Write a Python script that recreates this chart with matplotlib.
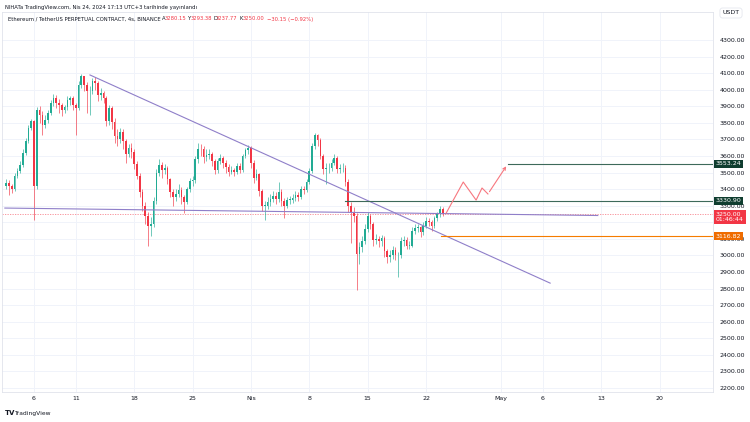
import numpy as np
import pandas as pd
import matplotlib
matplotlib.use("Agg")
import matplotlib.pyplot as plt
import matplotlib.dates as mdates
import matplotlib.transforms as mtransforms

# 8h candles, ETH/USDT
start = "2024-03-02 16:00"
closes = [3437, 3420, 3400, 3480, 3510, 3546, 3620, 3690, 3770, 3810,
          3420, 3880, 3850, 3790, 3820, 3860, 3920, 3950, 3920, 3905,
          3880, 3895, 3940, 3950, 3905, 3890, 4030, 4080, 4030, 3990,
          3990, 4055, 4040, 3970, 3980, 3950, 3810, 3890, 3805, 3720,
          3700, 3745, 3690, 3610, 3650, 3625, 3550, 3480, 3385, 3300,
          3240, 3180, 3190, 3330, 3500, 3545, 3515, 3525, 3460, 3385,
          3350, 3370, 3395, 3350, 3325, 3400, 3450, 3455, 3580, 3645,
          3640, 3595, 3605, 3615, 3570, 3515, 3570, 3590, 3560, 3535,
          3505, 3515, 3505, 3540, 3515, 3600, 3635, 3650, 3560, 3470,
          3490, 3390, 3300, 3300, 3320, 3340, 3360, 3340, 3380, 3330,
          3300, 3335, 3335, 3345, 3365, 3355, 3400, 3395, 3445, 3510,
          3660, 3725, 3695, 3600, 3520, 3525, 3530, 3560, 3590, 3520,
          3525, 3530, 3445, 3300, 3260, 3240, 3010, 3050, 3090, 3160,
          3240, 3190, 3095, 3100, 3085, 3105, 3025, 2990, 3000, 3035,
          3000, 3000, 3090, 3095, 3060, 3060, 3150, 3165, 3170, 3140,
          3180, 3210, 3200, 3180, 3225, 3250, 3280, 3250]
highs = [3460, 3455, 3430, 3495, 3530, 3570, 3640, 3710, 3790, 3825,
         3820, 3895, 3900, 3870, 3850, 3880, 3940, 3975, 3970, 3945,
         3920, 3910, 3960, 3965, 3960, 3920, 4050, 4095, 4085, 4045,
         4020, 4070, 4075, 4050, 4010, 3995, 3960, 3905, 3900, 3830,
         3760, 3770, 3760, 3700, 3670, 3680, 3640, 3570, 3500, 3400,
         3320, 3260, 3230, 3350, 3520, 3580, 3565, 3550, 3540, 3470,
         3400, 3400, 3430, 3410, 3365, 3415, 3470, 3480, 3600, 3680,
         3670, 3660, 3640, 3640, 3625, 3580, 3590, 3610, 3600, 3575,
         3550, 3540, 3530, 3560, 3555, 3615, 3650, 3665, 3660, 3575,
         3520, 3500, 3400, 3330, 3350, 3370, 3390, 3380, 3443, 3400,
         3345, 3350, 3360, 3370, 3390, 3380, 3420, 3420, 3460, 3530,
         3680, 3739, 3735, 3710, 3615, 3560, 3560, 3580, 3610, 3600,
         3550, 3555, 3545, 3460, 3320, 3290, 3255, 3080, 3120, 3190,
         3260, 3250, 3200, 3130, 3120, 3125, 3115, 3040, 3030, 3060,
         3050, 3020, 3110, 3120, 3110, 3085, 3170, 3190, 3190, 3180,
         3200, 3230, 3225, 3215, 3240, 3265, 3300, 3293]
lows = [3400, 3365, 3375, 3390, 3465, 3495, 3535, 3605, 3680, 3755,
        3214, 3400, 3800, 3727, 3770, 3800, 3845, 3900, 3890, 3860,
        3840, 3860, 3880, 3910, 3880, 3727, 3880, 4010, 3990, 3860,
        3848, 3975, 4000, 3930, 3940, 3920, 3780, 3790, 3760, 3680,
        3660, 3680, 3640, 3560, 3595, 3590, 3520, 3460, 3350, 3270,
        3190, 3060, 3120, 3170, 3310, 3480, 3470, 3490, 3430, 3350,
        3300, 3330, 3350, 3310, 3255, 3310, 3385, 3420, 3440, 3560,
        3600, 3560, 3570, 3580, 3540, 3490, 3500, 3550, 3530, 3500,
        3480, 3490, 3480, 3490, 3495, 3505, 3585, 3610, 3530, 3440,
        3455, 3360, 3270, 3214, 3280, 3300, 3320, 3310, 3320, 3300,
        3226, 3285, 3310, 3315, 3330, 3330, 3340, 3370, 3380, 3430,
        3500, 3640, 3660, 3580, 3490, 3430, 3500, 3510, 3545, 3495,
        3500, 3505, 3420, 3260, 3075, 3200, 2790, 2950, 3020, 3070,
        3140, 3160, 3060, 3070, 3050, 3060, 2990, 2955, 2960, 2980,
        2970, 2870, 2985, 3060, 3040, 3040, 3050, 3130, 3140, 3110,
        3125, 3165, 3175, 3150, 3165, 3210, 3235, 3238]
first_open = 3420

price_ticks = list(range(2200, 4400, 100))
date_ticks = ["2024-03-06", "2024-03-11", "2024-03-18", "2024-03-25", "2024-04-01",
              "2024-04-08", "2024-04-15", "2024-04-22", "2024-05-01", "2024-05-06",
              "2024-05-13", "2024-05-20"]
date_labels = ["6", "11", "18", "25", "Nis", "8", "15", "22", "May", "6", "13", "20"]

# drawings on the chart
trend_line = (["2024-03-12 17:00", "2024-05-06 21:00"], [4089, 2833])
flat_line = (["2024-03-02 12:00", "2024-05-12 14:00"], [3286, 3241])
levels = [("2024-05-01 19:00", 3553.24, "#3d6a5a", "#0f3d2f"),
          ("2024-04-12 07:00", 3330.90, "#3d6a5a", "#0f3d2f"),
          ("2024-04-23 19:00", 3116.82, "#f57c00", "#ef6c00")]
path_dates = ["2024-04-24 10:00", "2024-04-26 11:00", "2024-04-28 00:00",
              "2024-04-28 17:00", "2024-04-29 10:00"]
path_prices = [3256, 3443, 3334, 3407, 3371]
arrow_end = ("2024-05-01 19:00", 3552)

GREEN = "#22ab94"
RED = "#f23645"
GRID = "#f0f3fa"
TEXT = "#131722"

fig = plt.figure(figsize=(7.5, 4.22), dpi=100)
ax = fig.add_axes([2 / 750, 1 - 392 / 422, 711 / 750, 380 / 422])

dates = pd.date_range(start, periods=len(closes), freq="8h")
x = mdates.date2num(dates)
opens = [first_open] + closes[:-1]

for xi, o, h, l, c in zip(x, opens, highs, lows, closes):
    col = GREEN if c >= o else RED
    ax.vlines(xi, l, h, color=col, lw=0.6, alpha=0.75, zorder=3)
    ax.bar(xi, max(abs(c - o), 3), bottom=min(o, c), width=0.2,
           color=col, linewidth=0, zorder=4)

x0 = mdates.date2num(pd.Timestamp("2024-03-06"))
ax.set_xlim(x0 - 3.84, x0 + 81.4)
ax.set_ylim(2176, 4469)

# grid
for p in price_ticks:
    ax.axhline(p, color=GRID, lw=0.7, zorder=0)
for d in date_ticks:
    ax.axvline(mdates.date2num(pd.Timestamp(d)), color=GRID, lw=0.7, zorder=0)

# trend lines
ax.plot(mdates.date2num(pd.to_datetime(trend_line[0])), trend_line[1],
        color="#8f7fc9", lw=0.8, zorder=5)
ax.plot(mdates.date2num(pd.to_datetime(flat_line[0])), flat_line[1],
        color="#8f7fc9", lw=0.8, zorder=5)

# last price dotted line
ax.axhline(3250, color=RED, lw=0.6, ls=(0, (1.5, 1.5)), alpha=0.6, zorder=2)

# horizontal levels
blend = mtransforms.blended_transform_factory(ax.transAxes, ax.transData)
for d, p, lc, tc in levels:
    xs = mdates.date2num(pd.Timestamp(d))
    ax.plot([xs, ax.get_xlim()[1]], [p, p], color=lc, lw=0.8, zorder=5)
    ax.text(1.004, p, f"{p:.2f}", transform=blend, color="white", fontsize=4.5,
            va="center", ha="left", zorder=10, clip_on=False,
            bbox=dict(boxstyle="square,pad=0.25", fc=tc, ec="none"))

ax.text(1.004, 3232, "3250.00\n01:46:44", transform=blend, color="white",
        fontsize=4.5, va="center", ha="left", zorder=10, clip_on=False,
        linespacing=1.1,
        bbox=dict(boxstyle="square,pad=0.3", fc=RED, ec="none"))

# projected path
px = mdates.date2num(pd.to_datetime(path_dates))
ax.plot(px, path_prices, color="#f7777f", lw=0.8, zorder=6)
ax.annotate("", xy=(mdates.date2num(pd.Timestamp(arrow_end[0])), arrow_end[1]),
            xytext=(px[-1], path_prices[-1]),
            arrowprops=dict(arrowstyle="->", color="#f7777f", lw=0.8,
                            mutation_scale=5), zorder=6)

# axes look
ax.yaxis.tick_right()
ax.set_yticks(price_ticks)
ax.set_yticklabels([f"{p:.2f}" for p in price_ticks])
ax.tick_params(axis="y", length=0, pad=5, labelsize=4.5, labelcolor=TEXT)
ax.set_xticks(mdates.date2num(pd.to_datetime(date_ticks)))
ax.set_xticklabels(date_labels)
ax.tick_params(axis="x", length=0, pad=3, labelsize=4.5, labelcolor=TEXT)
for s in ax.spines.values():
    s.set_color("#e0e3eb")
    s.set_linewidth(0.6)

# price scale unit box
fig.text(731 / 750, 1 - 13 / 422, "USDT", fontsize=4.5, color=TEXT,
         ha="center", va="center",
         bbox=dict(boxstyle="round,pad=0.4", fc="white", ec="#e0e3eb", lw=0.5))

# header texts
fig.text(5 / 750, 1 - 7 / 422, "NIHATa TradingView.com, Nis 24, 2024 17:13 UTC+3 tarihinde yayınlandı",
         fontsize=3.8, color=TEXT, va="center")
fig.text(8 / 750, 1 - 19 / 422, "Ethereum / TetherUS PERPETUAL CONTRACT, 4s, BINANCE",
         fontsize=3.8, color=TEXT, va="center")
ohlc = [(161.5, "A", TEXT), (164.5, "3280.15", RED), (187.5, "Y", TEXT),
        (190.5, "3293.38", RED), (213.5, "D", TEXT), (216, "3237.77", RED),
        (240, "K", TEXT), (243, "3250.00", RED), (267, "\u221230.15 (\u22120.92%)", RED)]
for px_, s, c in ohlc:
    fig.text(px_ / 750, 1 - 19 / 422, s, fontsize=3.8, color=c, va="center")

# footer logo
fig.text(5 / 750, 1 - 413 / 422, "TV", fontsize=5, fontweight="bold", color=TEXT, va="center")
fig.text(14 / 750, 1 - 413 / 422, "TradingView", fontsize=4.3, color=TEXT, va="center")

fig.savefig("out.png", dpi=100, facecolor="white")
